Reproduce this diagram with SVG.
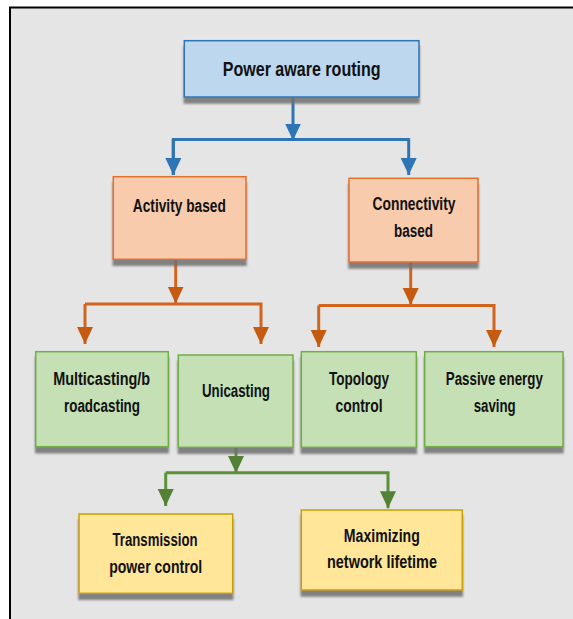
<svg xmlns="http://www.w3.org/2000/svg" width="573" height="619" viewBox="0 0 573 619">
<style>
.t{font-family:"Liberation Sans",Arial,sans-serif;font-weight:bold;font-size:18px;fill:#111;text-anchor:middle}
.big{font-size:20px}
.blue rect{fill:#bdd7ee;stroke:#2e75b6;stroke-width:1.5}
.orange rect{fill:#f8cbad;stroke:#e0702c;stroke-width:1.5}
.green rect{fill:#c5e0b4;stroke:#70ad47;stroke-width:1.5}
.yellow rect{fill:#ffe699;stroke:#c9a000;stroke-width:1.5}
.node rect{filter:url(#sh)}
.cb{fill:none;stroke:#2e75b6;stroke-width:3}
.co{fill:none;stroke:#d0651f;stroke-width:3}
.cg{fill:none;stroke:#5b9137;stroke-width:3}
</style>
<defs>
<filter id="sh" x="-10%" y="-10%" width="125%" height="135%">
<feDropShadow dx="0" dy="6" stdDeviation="1.3" flood-color="#707070" flood-opacity="0.85"/>
</filter>
<marker id="ab" markerUnits="userSpaceOnUse" markerWidth="18" markerHeight="17" refX="17" refY="8" orient="auto" viewBox="0 0 18 17"><path d="M0,0 L17,8 L0,16 z" fill="#2e75b6"/></marker>
<marker id="ao" markerUnits="userSpaceOnUse" markerWidth="18" markerHeight="17" refX="17" refY="8" orient="auto" viewBox="0 0 18 17"><path d="M0,0 L17,8 L0,16 z" fill="#c55a11"/></marker>
<marker id="ag" markerUnits="userSpaceOnUse" markerWidth="18" markerHeight="17" refX="17" refY="8" orient="auto" viewBox="0 0 18 17"><path d="M0,0 L17,8 L0,16 z" fill="#548235"/></marker>
</defs>
<rect x="0" y="0" width="573" height="619" fill="#ffffff"/>
<rect x="10" y="7.5" width="600" height="650" fill="#e5e5e5" stroke="#000" stroke-width="2"/>

<g id="connectors">
<path class="cb" d="M293,97 V140.5" marker-end="url(#ab)"/>
<path class="cb" d="M173.3,175 V139.5 H408.7 V175" marker-end="url(#ab)"/>
<path class="cb" d="M173.3,139.5 V175" marker-end="url(#ab)"/>
<path class="co" d="M175.7,259.3 V303.5" marker-end="url(#ao)"/>
<path class="co" d="M85,304 H261 V344" marker-end="url(#ao)"/>
<path class="co" d="M85,304 V344" marker-end="url(#ao)"/>
<path class="co" d="M410.7,262 V305" marker-end="url(#ao)"/>
<path class="co" d="M318.7,305.5 H494 V347" marker-end="url(#ao)"/>
<path class="co" d="M318.7,305.5 V347" marker-end="url(#ao)"/>
<path class="cg" d="M236,447.3 V473" marker-end="url(#ag)"/>
<path class="cg" d="M165.7,472.7 H388 V508.3" marker-end="url(#ag)"/>
<path class="cg" d="M165.7,472.7 V506" marker-end="url(#ag)"/>
</g>

<g id="power-aware-routing" class="node blue">
<rect x="184.3" y="40.7" width="234.7" height="56.3"/>
<text class="t big" x="301.7" y="76" textLength="158" lengthAdjust="spacingAndGlyphs">Power aware routing</text>
</g>
<g id="activity-based" class="node orange">
<rect x="113.3" y="176.7" width="132.7" height="82.6"/>
<text class="t" x="179.3" y="211.5" textLength="93" lengthAdjust="spacingAndGlyphs">Activity based</text>
</g>
<g id="connectivity-based" class="node orange">
<rect x="349" y="178.3" width="129" height="83.7"/>
<text class="t" x="414" y="210" textLength="83" lengthAdjust="spacingAndGlyphs">Connectivity</text>
<text class="t" x="413.5" y="236.5" textLength="39" lengthAdjust="spacingAndGlyphs">based</text>
</g>
<g id="multicasting" class="node green">
<rect x="35.7" y="351.7" width="132.6" height="95"/>
<text class="t" x="101.7" y="385" textLength="97" lengthAdjust="spacingAndGlyphs">Multicasting/b</text>
<text class="t" x="102" y="412" textLength="76" lengthAdjust="spacingAndGlyphs">roadcasting</text>
</g>
<g id="unicasting" class="node green">
<rect x="178.3" y="355" width="114.7" height="92.3"/>
<text class="t" x="236" y="396.5" textLength="68" lengthAdjust="spacingAndGlyphs">Unicasting</text>
</g>
<g id="topology-control" class="node green">
<rect x="301.3" y="351.7" width="115" height="95.6"/>
<text class="t" x="359" y="385" textLength="60" lengthAdjust="spacingAndGlyphs">Topology</text>
<text class="t" x="359" y="412" textLength="47" lengthAdjust="spacingAndGlyphs">control</text>
</g>
<g id="passive-energy-saving" class="node green">
<rect x="424.7" y="351.7" width="138.3" height="95"/>
<text class="t" x="494.3" y="385" textLength="97" lengthAdjust="spacingAndGlyphs">Passive energy</text>
<text class="t" x="494.7" y="412" textLength="42" lengthAdjust="spacingAndGlyphs">saving</text>
</g>
<g id="transmission-power-control" class="node yellow">
<rect x="79" y="514" width="153.7" height="79.3"/>
<text class="t" x="155" y="546" textLength="85" lengthAdjust="spacingAndGlyphs">Transmission</text>
<text class="t" x="155.7" y="573" textLength="93" lengthAdjust="spacingAndGlyphs">power control</text>
</g>
<g id="maximizing-network-lifetime" class="node yellow">
<rect x="301.3" y="510" width="161" height="80"/>
<text class="t" x="381.8" y="541.5" textLength="76" lengthAdjust="spacingAndGlyphs">Maximizing</text>
<text class="t" x="382" y="567.5" textLength="110" lengthAdjust="spacingAndGlyphs">network lifetime</text>
</g>
</svg>
